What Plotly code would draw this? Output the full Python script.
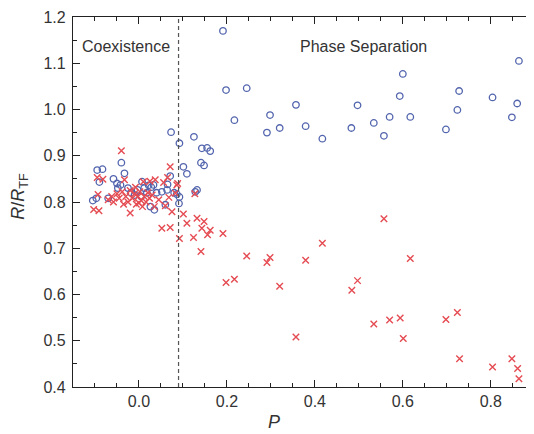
import plotly.graph_objects as go

# Blue open circles (left/coexistence cluster and phase-separated branch)
blue_P = [-0.105, -0.097, -0.095, -0.083, -0.090, -0.070, -0.058, -0.050, -0.042, -0.040,
          -0.033, -0.048, -0.025, -0.018, -0.010, -0.003, 0.005, 0.007, 0.012, 0.018,
          0.022, 0.028, 0.033, 0.026, 0.035, 0.040, 0.052, 0.060, 0.064, 0.065,
          0.071, 0.073, 0.080, 0.086, 0.091, 0.092,
          0.092, 0.101, 0.109, 0.125, 0.128, 0.132, 0.141, 0.143, 0.148, 0.155, 0.162,
          0.191, 0.198, 0.217, 0.245, 0.291, 0.298, 0.320, 0.357, 0.379, 0.417,
          0.483, 0.497, 0.534, 0.557, 0.570, 0.593, 0.600, 0.617, 0.698, 0.724,
          0.728, 0.804, 0.848, 0.860, 0.864]
blue_R = [0.803, 0.808, 0.869, 0.871, 0.843, 0.808, 0.850, 0.840, 0.837, 0.885,
          0.862, 0.830, 0.830, 0.820, 0.815, 0.826, 0.812, 0.844, 0.830, 0.820,
          0.836, 0.832, 0.837, 0.790, 0.783, 0.820, 0.822, 0.794, 0.826, 0.838,
          0.856, 0.951, 0.820, 0.817, 0.797, 0.811,
          0.927, 0.876, 0.861, 0.941, 0.822, 0.826, 0.885, 0.916, 0.879, 0.917, 0.910,
          1.170, 1.042, 0.977, 1.046, 0.950, 0.988, 0.960, 1.010, 0.964, 0.937,
          0.960, 1.009, 0.971, 0.943, 0.984, 1.029, 1.077, 0.984, 0.957, 0.999,
          1.040, 1.026, 0.983, 1.013, 1.105]

# Red crosses
red_P = [-0.103, -0.091, -0.095, -0.082, -0.093, -0.040, -0.033, -0.020, -0.070, -0.062,
         -0.058, -0.050, -0.045, -0.038, -0.030, -0.025, -0.020, -0.015, -0.010, -0.006,
         -0.002, 0.002, 0.005, 0.008, 0.010, 0.012, 0.016, 0.020, 0.024, 0.025,
         0.030, 0.035, 0.037, 0.045, 0.052, 0.056, 0.060, 0.065, 0.068, 0.071,
         0.071, 0.075, 0.083, 0.086, 0.088, 0.092, -0.008, 0.000, -0.035,
         0.101, 0.109, 0.127, 0.132, 0.148, 0.143, 0.162, 0.156, 0.191, 0.124,
         0.141, 0.198, 0.217, 0.245, 0.291, 0.298, 0.320, 0.379, 0.417, 0.357,
         0.484, 0.497, 0.557, 0.617, 0.534, 0.570, 0.594, 0.601, 0.698, 0.724,
         0.729, 0.804, 0.848, 0.861, 0.864]
red_R = [0.784, 0.781, 0.853, 0.849, 0.816, 0.911, 0.848, 0.776, 0.805, 0.812,
         0.800, 0.818, 0.808, 0.822, 0.812, 0.800, 0.825, 0.808, 0.818, 0.795,
         0.812, 0.822, 0.803, 0.790, 0.844, 0.812, 0.800, 0.820, 0.808, 0.845,
         0.815, 0.790, 0.848, 0.805, 0.743, 0.842, 0.792, 0.853, 0.810, 0.876,
         0.745, 0.779, 0.819, 0.837, 0.840, 0.721, 0.832, 0.798, 0.795,
         0.774, 0.754, 0.818, 0.765, 0.758, 0.743, 0.739, 0.729, 0.732, 0.723,
         0.693, 0.626, 0.633, 0.683, 0.669, 0.680, 0.618, 0.674, 0.711, 0.508,
         0.609, 0.630, 0.764, 0.678, 0.536, 0.545, 0.549, 0.505, 0.546, 0.561,
         0.461, 0.443, 0.461, 0.440, 0.418]

boundary_P = 0.09
x_ticks = [0.0, 0.2, 0.4, 0.6, 0.8]
y_ticks = [0.4, 0.5, 0.6, 0.7, 0.8, 0.9, 1.0, 1.1, 1.2]

FONT = "Arial, Liberation Sans, sans-serif"

fig = go.Figure()
fig.add_trace(go.Scatter(
    x=blue_P, y=blue_R, mode="markers",
    marker=dict(symbol="circle-open", size=6.5, color="#5264ad", line=dict(width=1.3)),
    showlegend=False))
fig.add_trace(go.Scatter(
    x=red_P, y=red_R, mode="markers",
    marker=dict(symbol="x-thin-open", size=6.5, color="#e54b52", line=dict(width=1.4)),
    showlegend=False))

fig.add_shape(type="line", xref="x", yref="paper", x0=boundary_P, x1=boundary_P, y0=0, y1=1,
              line=dict(color="#555555", width=1.2, dash="4px,3px"))

axis_common = dict(
    showline=True, linecolor="#222", linewidth=1.2, mirror="ticks",
    ticks="inside", ticklen=7, tickwidth=1.2, tickcolor="#222",
    showgrid=False, zeroline=False,
    tickfont=dict(family=FONT, size=16, color="#333"),
    tickformat=".1f",
)
fig.update_xaxes(range=[-0.15, 0.896], tickvals=x_ticks,
                 minor=dict(dtick=0.05, tick0=0, ticks="inside", ticklen=4, tickcolor="#222", tickwidth=1.1),
                 **axis_common)
fig.update_yaxes(range=[0.4, 1.2], tickvals=y_ticks, ticklabelstandoff=3,
                 minor=dict(dtick=0.05, tick0=0, ticks="inside", ticklen=4, tickcolor="#222", tickwidth=1.1),
                 **axis_common)

fig.add_annotation(text="Coexistence", xref="paper", yref="paper", x=0.015, y=0.92,
                   xanchor="left", yanchor="middle", showarrow=False,
                   font=dict(family=FONT, size=16, color="#333"))
fig.add_annotation(text="Phase Separation", xref="paper", yref="paper", x=0.49, y=0.92,
                   xanchor="left", yanchor="middle", showarrow=False,
                   font=dict(family=FONT, size=16, color="#333"))
fig.add_annotation(text="<i>P</i>", xref="paper", yref="paper", x=0.437, y=0,
                   yshift=-35, xanchor="center", yanchor="middle", showarrow=False,
                   font=dict(family=FONT, size=18, color="#333"))
fig.add_annotation(text="<i>R</i>/<i>R</i><sub>TF</sub>", xref="paper", yref="paper",
                   x=0, xshift=-53, y=0.514, textangle=-90,
                   xanchor="center", yanchor="middle", showarrow=False,
                   font=dict(family=FONT, size=18, color="#333"))

# page body has an 8px margin; size/margins compensate so the plot frame lands at
# x 73..533, y 17..387 in the window
fig.update_layout(
    width=526, height=426,
    margin=dict(l=65, r=1, t=9, b=47),
    paper_bgcolor="white", plot_bgcolor="white",
    font=dict(family=FONT, color="#333"),
)
fig.write_html("out.html")
